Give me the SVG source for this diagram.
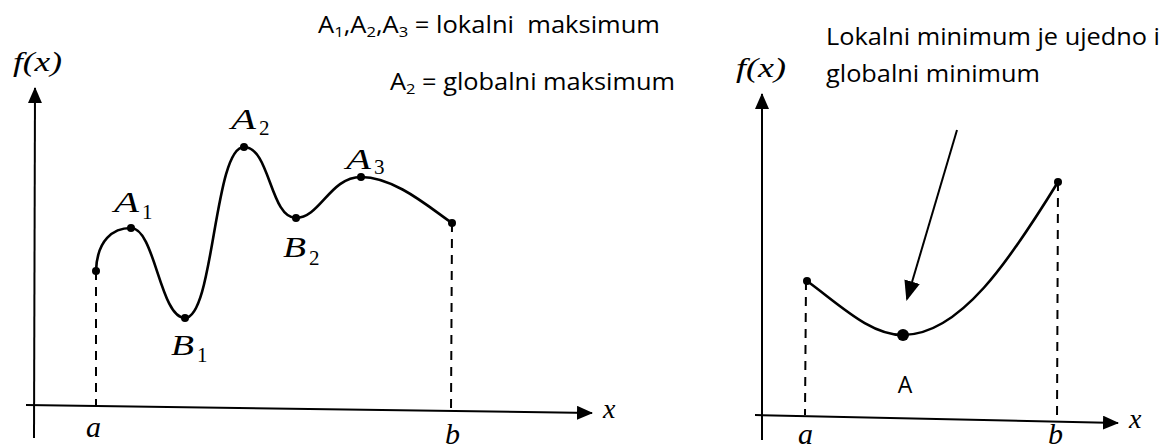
<svg xmlns="http://www.w3.org/2000/svg" width="1165" height="448" viewBox="0 0 1165 448">
<style>
.ax{stroke:#000;stroke-width:2;fill:none}
.cv{stroke:#000;stroke-width:2.6;fill:none;stroke-linecap:round}
.dash{stroke:#000;stroke-width:2;fill:none;stroke-dasharray:9,7}
.m{font-family:"Liberation Serif","DejaVu Serif",serif;font-style:italic;fill:#000}
.big{font-size:30px}
.sub{font-size:21px;font-style:normal}
.t{font-family:"Open Sans","Liberation Sans",sans-serif;font-size:23px;fill:#000}
.dot{fill:#000}
</style>
<defs>
<marker id="ah" markerWidth="10" markerHeight="8" refX="9" refY="4" orient="auto" markerUnits="strokeWidth">
<path d="M0,0 L10,4 L0,8 z" fill="#000"/>
</marker>
<marker id="ah2" markerWidth="8" markerHeight="7" refX="7.5" refY="3.5" orient="auto" markerUnits="strokeWidth">
<path d="M0,0 L8,3.5 L0,7 z" fill="#000"/>
</marker>
</defs>
<rect width="1165" height="448" fill="#fff"/>

<g id="left-axes">
<line class="ax" x1="34" y1="438" x2="35" y2="88" marker-end="url(#ah2)"/>
<line class="ax" x1="26" y1="405" x2="592" y2="413" marker-end="url(#ah2)"/>
<text class="m" x="13" y="71" font-size="28" textLength="49" lengthAdjust="spacingAndGlyphs">f(x)</text>
<text class="m" x="603" y="418" font-size="28">x</text>
<text class="m" x="86" y="437" font-size="30">a</text>
<text class="m" x="445" y="444" font-size="30">b</text>
</g>

<g id="left-curve">
<path class="cv" d="M96,271 C97,240 113,228 131,228 C155,228 160,318 185,318 C214,318 214,147 244,147 C270,147 270,218 296,218 C320,218 330,177 361,177 C395,177 430,208 452,223"/>
<line class="dash" x1="96" y1="271" x2="96" y2="405"/>
<line class="dash" x1="452" y1="223" x2="451" y2="412"/>
</g>

<g id="node-start"><circle class="dot" cx="96" cy="271" r="4"/></g>
<g id="node-A1"><circle class="dot" cx="131" cy="228" r="4"/>
<text class="m big" x="114" y="212" textLength="25" lengthAdjust="spacingAndGlyphs">A</text><text class="m sub" x="142" y="219">1</text></g>
<g id="node-B1"><circle class="dot" cx="185" cy="318" r="4"/>
<text class="m big" x="171" y="355" textLength="23" lengthAdjust="spacingAndGlyphs">B</text><text class="m sub" x="197" y="362">1</text></g>
<g id="node-A2"><circle class="dot" cx="244" cy="147" r="4"/>
<text class="m big" x="231" y="129" textLength="25" lengthAdjust="spacingAndGlyphs">A</text><text class="m sub" x="259" y="135">2</text></g>
<g id="node-B2"><circle class="dot" cx="296" cy="218" r="4"/>
<text class="m big" x="283" y="257" textLength="23" lengthAdjust="spacingAndGlyphs">B</text><text class="m sub" x="309" y="265">2</text></g>
<g id="node-A3"><circle class="dot" cx="361" cy="177" r="4"/>
<text class="m big" x="346" y="169" textLength="25" lengthAdjust="spacingAndGlyphs">A</text><text class="m sub" x="374" y="174">3</text></g>
<g id="node-end"><circle class="dot" cx="452" cy="223" r="4"/></g>

<g id="left-notes">
<text class="t" x="318" y="33" textLength="342" lengthAdjust="spacingAndGlyphs">A<tspan font-size="15" dy="4">1</tspan><tspan dy="-4">,A</tspan><tspan font-size="15" dy="4">2</tspan><tspan dy="-4">,A</tspan><tspan font-size="15" dy="4">3</tspan><tspan dy="-4" xml:space="preserve"> = lokalni  maksimum</tspan></text>
<text class="t" x="390" y="90" textLength="285" lengthAdjust="spacingAndGlyphs">A<tspan font-size="15" dy="4">2</tspan><tspan dy="-4"> = globalni maksimum</tspan></text>
</g>

<g id="right-axes">
<line class="ax" x1="762" y1="440" x2="762" y2="94" marker-end="url(#ah2)"/>
<line class="ax" x1="755" y1="415" x2="1118" y2="423" marker-end="url(#ah2)"/>
<text class="m" x="736" y="77" font-size="28" textLength="50" lengthAdjust="spacingAndGlyphs">f(x)</text>
<text class="m" x="1129" y="428" font-size="28">x</text>
<text class="m" x="798" y="444" font-size="30">a</text>
<text class="m" x="1048" y="444" font-size="30">b</text>
</g>

<g id="right-curve">
<path class="cv" d="M807,281 C840,305 870,335 903,335 C960,335 1010,260 1058,182"/>
<line class="dash" x1="806" y1="281" x2="805" y2="415"/>
<line class="dash" x1="1058" y1="182" x2="1057" y2="422"/>
</g>
<g id="node-ra"><circle class="dot" cx="807" cy="281" r="4"/></g>
<g id="node-rb"><circle class="dot" cx="1058" cy="182" r="4"/></g>
<g id="node-A"><circle class="dot" cx="903" cy="335" r="6"/>
<text class="t" x="905" y="393" text-anchor="middle">A</text></g>

<g id="right-notes">
<text class="t" x="826" y="45" textLength="334" lengthAdjust="spacingAndGlyphs">Lokalni minimum je ujedno i</text>
<text class="t" x="826" y="82" textLength="214" lengthAdjust="spacingAndGlyphs">globalni minimum</text>
</g>

<g id="connectors">
<line x1="957" y1="130" x2="907" y2="299" stroke="#000" stroke-width="2" marker-end="url(#ah)"/>
</g>
</svg>
